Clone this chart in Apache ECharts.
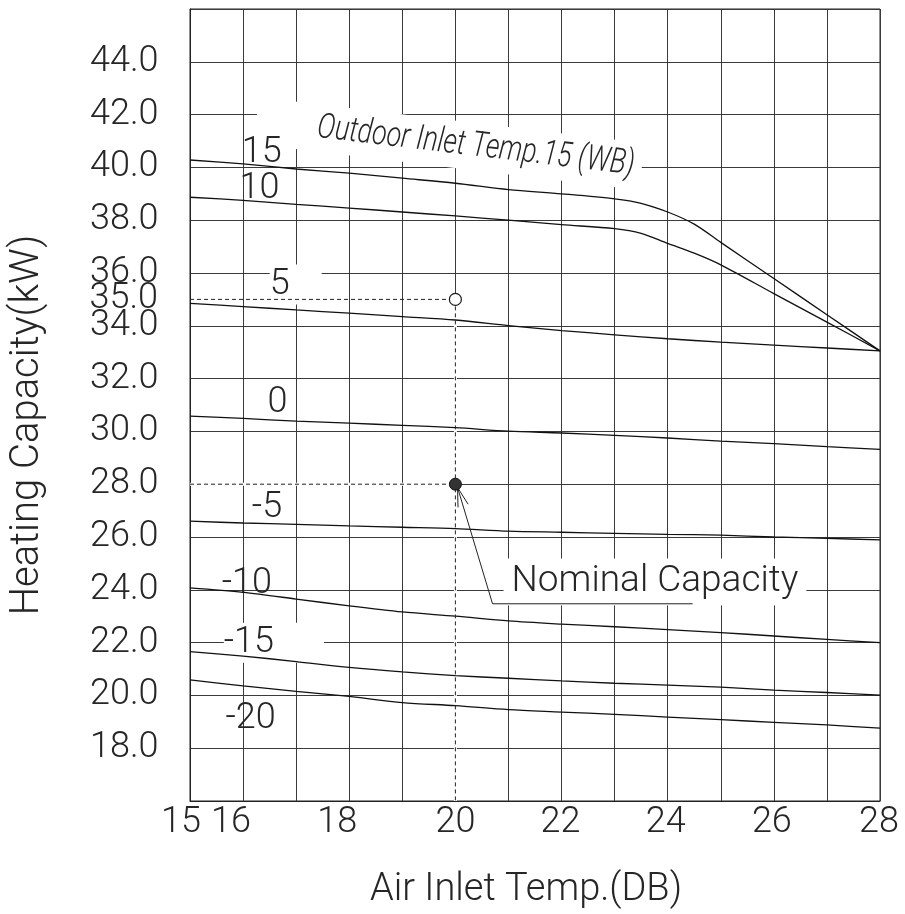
<!DOCTYPE html>
<html><head><meta charset="utf-8">
<script src="https://cdn.jsdelivr.net/npm/echarts@6/dist/echarts.min.js"></script>
<style>html,body{margin:0;padding:0;background:#fff}#c{width:905px;height:914px}</style>
</head><body><div id="c"></div>
<script>
// ---- data ----
const xTemps = [15,16,17,18,19,20,21,22,23,24,25,26,27,28];
const xBend  = [15,16,17,18,19,20,21,22,23,23.5,24,24.5,25,26,27,28];
const cap15  = [40.28,40.13,39.94,39.78,39.59,39.40,39.16,39.00,38.81,38.64,38.31,37.85,37.16,35.79,34.42,33.05];
const cap10  = [38.87,38.75,38.60,38.46,38.31,38.16,38.00,37.83,37.68,37.50,37.12,36.75,36.31,35.22,34.14,33.05];
const cap5   = [34.85,34.73,34.60,34.48,34.35,34.22,34.01,33.82,33.66,33.51,33.38,33.27,33.16,33.05];
const cap0   = [30.58,30.49,30.39,30.31,30.23,30.14,30.01,29.94,29.85,29.75,29.63,29.54,29.42,29.32];
const capM5  = [26.60,26.53,26.48,26.42,26.37,26.32,26.22,26.18,26.14,26.10,26.07,26.00,25.95,25.89];
const capM10 = [24.07,23.90,23.65,23.39,23.16,23.00,22.82,22.70,22.60,22.49,22.38,22.25,22.12,22.00];
const capM15 = [21.66,21.49,21.28,21.06,20.89,20.75,20.65,20.55,20.46,20.39,20.31,20.20,20.11,20.01];
const capM20 = [20.59,20.36,20.15,19.96,19.73,19.61,19.46,19.37,19.28,19.18,19.08,18.98,18.88,18.76];

const curveLabelText = ['15','10','5','0','-5','-10','-15','-20'];
const curveLabelX = [16.35,16.31,16.69,16.65,16.45,16.07,16.11,16.14];
const curveLabelY = [40.54,39.18,35.56,31.08,27.08,24.21,21.99,19.09];

const xLabelValues = [15,16,18,20,22,24,26,28];
const yExtraLabel = 35.0;

const ratedPoint = [20, 35.0];     // open circle
const nominalPoint = [20, 28.0];   // filled circle
const refLine35 = [[15,35.0],[20,35.0]];
const refLine28 = [[15,28.0],[20,28.0]];
const refLineV  = [[20,35.0],[20,16]];
const arrowHead = [[20.05,27.12],[20.04,27.88],[20.24,27.24]];
const leader    = [[20.04,27.88],[20.70,23.47],[24.47,23.47]];

const outdoorText = 'Outdoor Inlet Temp.15 (WB)';
const outdoorAnchor = [19.88, 40.90];
const nominalText = 'Nominal Capacity';
const nominalAnchor = [23.76, 24.30];

// ---- chart ----
const FONT = 'Roboto';
const TXT = '#262626';
const chart = echarts.init(document.getElementById('c'));

const curveStyle = {color:'#111', width:1.3};
function curve(xs, ys){
  return {type:'line', data: xs.map((x,i)=>[x,ys[i]]), symbol:'none', smooth:0.3,
          lineStyle: curveStyle, z:5, silent:true};
}
const xShift = {15:9,16:12,18:12,20:0,22:1,24:2,26:2,28:1};
const rich = {};
Object.keys(xShift).forEach(k=>{ rich['s'+k] = {fontFamily:FONT, fontWeight:300, fontSize:36, color:TXT, padding:[0,2*xShift[k],0,0]}; });
const hidden = {color:'rgba(0,0,0,0)', opacity:1};
// white boxes behind some curve labels (they hide grid lines, as in the drawing); extra right pad in px
const labelBoxPad = {'5':32, '-15':50};

chart.setOption({
  animation:false,
  grid:{left:190, right:25, top:9, bottom:109, show:true, borderColor:'#222', borderWidth:1},
  xAxis:{type:'value', min:15, max:28, interval:1,
    name:'Air Inlet Temp.(DB)', nameLocation:'middle', nameGap:70,
    nameTextStyle:{fontFamily:FONT, fontWeight:300, fontSize:38, color:TXT, padding:[0,18,0,0]},
    axisLine:{show:true, lineStyle:{color:'#222', width:1}}, axisTick:{show:false},
    axisLabel:{margin:4, formatter:v=> xLabelValues.indexOf(v)>=0 ? '{s'+v+'|'+v+'}' : '', rich:rich,
      fontFamily:FONT, fontWeight:300, fontSize:36, color:TXT},
    splitLine:{show:true, lineStyle:{color:'#3a3a3a', width:1}}},
  yAxis:{type:'value', min:16, max:46, interval:2,
    name:'Heating Capacity(kW)', nameLocation:'middle', nameGap:142,
    nameTextStyle:{fontFamily:FONT, fontWeight:300, fontSize:40, color:TXT, padding:[0,40,0,0]},
    axisLine:{show:true, lineStyle:{color:'#222', width:1}}, axisTick:{show:false},
    axisLabel:{margin:100, align:'left', formatter:v=> (v===16||v===46)?'':v.toFixed(1),
      fontFamily:FONT, fontWeight:300, fontSize:36, color:TXT},
    splitLine:{show:true, lineStyle:{color:'#3a3a3a', width:1}}},
  series:[
    {type:'line', data:refLine28, symbol:'none', lineStyle:{color:'#fff', width:3}, z:3, silent:true},
    {type:'line', data:refLineV, symbol:'none', lineStyle:{color:'#fff', width:3}, z:3, silent:true},
    {type:'line', data:refLine35, symbol:'none', lineStyle:{color:'#222', width:1, type:[4,3]}, z:6, silent:true},
    {type:'line', data:refLine28, symbol:'none', lineStyle:{color:'#222', width:1, type:[4,3]}, z:6, silent:true},
    {type:'line', data:refLineV, symbol:'none', lineStyle:{color:'#222', width:1, type:[4,3]}, z:6, silent:true},
    curve(xBend, cap15), curve(xBend, cap10), curve(xTemps, cap5), curve(xTemps, cap0),
    curve(xTemps, capM5), curve(xTemps, capM10), curve(xTemps, capM15), curve(xTemps, capM20),
    {type:'line', data:arrowHead, symbol:'none', lineStyle:{color:'#222', width:1}, z:6, silent:true},
    {type:'line', data:leader, symbol:'none', lineStyle:{color:'#222', width:1}, z:6, silent:true},
    {type:'scatter', data:[ratedPoint], symbol:'circle', symbolSize:12,
      itemStyle:{color:'#fff', borderColor:'#1a1a1a', borderWidth:1.2, opacity:1}, z:7, silent:true},
    {type:'scatter', data:[nominalPoint], symbol:'circle', symbolSize:12,
      itemStyle:{color:'#333', borderColor:'#111', borderWidth:1, opacity:1}, z:7, silent:true},
    {type:'scatter', symbolSize:1, itemStyle:hidden, z:4, silent:true,
      data: curveLabelText.map((t,i)=>{
        const item = {name:t, value:[curveLabelX[i], curveLabelY[i]]};
        if (labelBoxPad[t]) item.label = {backgroundColor:'#fff', padding:[2,labelBoxPad[t],2,0], offset:[labelBoxPad[t]/2,0]};
        return item;
      }),
      label:{show:true, position:'inside', formatter:p=>p.name, fontFamily:FONT, fontWeight:300, fontSize:36, color:TXT}},
    {type:'scatter', symbolSize:1, itemStyle:hidden, z:8, silent:true,
      data:[{name:yExtraLabel.toFixed(1), value:[15, yExtraLabel]}],
      label:{show:true, position:[-100,0], align:'left', verticalAlign:'middle', formatter:p=>p.name,
        fontFamily:FONT, fontWeight:300, fontSize:36, color:TXT}},
    {type:'scatter', symbolSize:1, itemStyle:hidden, z:4, silent:true,
      data:[{name:nominalText, value:nominalAnchor}],
      label:{show:true, position:'inside', formatter:p=>p.name, fontFamily:FONT, fontWeight:300, fontSize:37, color:TXT,
        backgroundColor:'#fff', padding:[4,8,6,8]}}
  ]
});

const op = chart.convertToPixel({gridIndex:0}, outdoorAnchor);
chart.setOption({graphic:[{type:'text', x:op[0], y:op[1], rotation:-6.8*Math.PI/180, scaleX:0.77, z:4, silent:true,
  style:{text:outdoorText, font:'italic 300 35px Roboto', fill:TXT, align:'center', verticalAlign:'middle',
    backgroundColor:'#fff', padding:[4,10,8,80]}}]});
</script></body></html>
